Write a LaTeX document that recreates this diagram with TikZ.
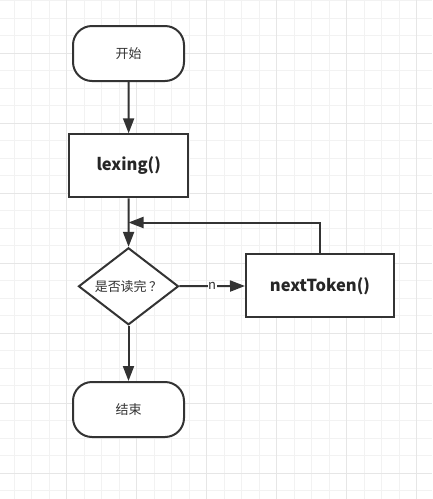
\documentclass[tikz,border=0pt]{standalone}
\usepackage{fontspec}
\setmainfont{Noto Sans CJK SC}
\usetikzlibrary{arrows.meta,shapes.geometric}
\definecolor{ln}{HTML}{333333}
\definecolor{gminor}{HTML}{F2F2F2}
\definecolor{gmajor}{HTML}{E6E6E6}
\tikzset{
  term/.style={draw=ln,line width=2pt,rounded corners=19pt,minimum width=111pt,minimum height=55pt,fill=white,font=\fontsize{13}{15}\selectfont,text=ln},
  proc/.style={draw=ln,line width=2pt,minimum height=63pt,fill=white,font=\bfseries\fontsize{16.5}{18}\selectfont,text=black!85},
  decide/.style={draw=ln,line width=2pt,diamond,aspect=1.3,inner sep=0pt,minimum width=100pt,minimum height=77pt,fill=white,font=\fontsize{13}{15}\selectfont,text=ln},
  arr/.style={draw=ln,line width=2pt,-{Triangle[length=15pt,width=11pt]}},
  lbl/.style={fill=white,inner sep=0.5pt,font=\fontsize{13}{15}\selectfont,text=ln},
}
\begin{document}
\begin{tikzpicture}[x=1pt,y=-1pt]
\useasboundingbox (0,0) rectangle (432,499);
\fill[white] (0,0) rectangle (432,499);
% grid
\foreach \i in {0,...,23} {\draw[gminor,line width=1pt] (14+17.5*\i,0) -- (14+17.5*\i,499);}
\foreach \i in {0,...,28} {\draw[gminor,line width=1pt] (0,0.5+17.5*\i) -- (432,0.5+17.5*\i);}
\foreach \i in {0,...,5} {\draw[gmajor,line width=1pt] (66.5+70*\i,0) -- (66.5+70*\i,499);}
\foreach \i in {0,...,6} {\draw[gmajor,line width=1pt] (0,53+70*\i) -- (432,53+70*\i);}
% nodes
\node[term] (start) at (128.5,53.5) {开始};
\node[proc,minimum width=119pt] (lex) at (128.7,165.8) {lexing()};
\node[decide] (q) at (128.5,286.3) {是否读完\hspace{2.5pt}？\hspace{2.5pt}};
\node[proc,minimum width=148pt] (nt) at (320,285.8) {nextToken()};
\node[term] (end) at (128.5,409.5) {结束};
\coordinate (j) at (128.5,222.5);
% connectors
\draw[arr] (start) -- (lex);
\draw[arr] (lex) -- (q);
\draw[arr] (nt.north) |- (j);
\draw[arr] (q) -- node[lbl] (n) {n} (nt);
\draw[arr] (q) -- (end);
\end{tikzpicture}
\end{document}
